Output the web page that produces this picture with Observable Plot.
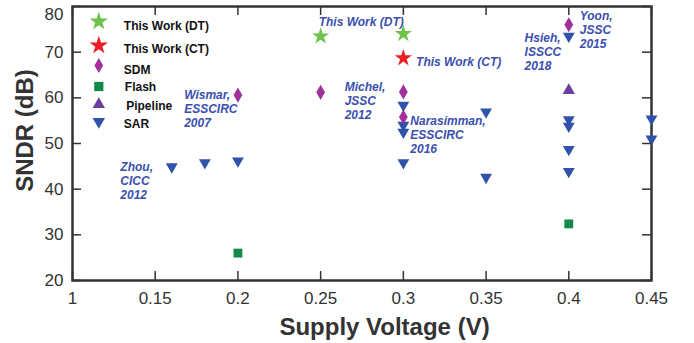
<!DOCTYPE html>
<html><head><meta charset="utf-8">
<script src="https://cdn.jsdelivr.net/npm/d3@7"></script>
<script src="https://cdn.jsdelivr.net/npm/@observablehq/plot@0.6"></script>
<style>
body{margin:0;background:#fff;}
#chart svg{font-family:"Liberation Sans",Arial,sans-serif;}
</style></head><body><div id="chart"></div>
<script>
// ---- tick labels ----
const xTicks = [0.1, 0.15, 0.2, 0.25, 0.3, 0.35, 0.4, 0.45];
const xTickLabels = ["1", "0.15", "0.2", "0.25", "0.3", "0.35", "0.4", "0.45"];
const yTicks = [20, 30, 40, 50, 60, 70, 80];

// ---- series ----
const dtX = [0.25, 0.3];
const dtY = [73.5, 74.0];
const ctX = [0.3];
const ctY = [68.7];
const sdmX = [0.2, 0.25, 0.3, 0.3, 0.4];
const sdmY = [60.6, 61.2, 61.3, 55.8, 76.0];
const flashX = [0.2, 0.4];
const flashY = [26.0, 32.4];
const pipeX = [0.4];
const pipeY = [61.6];
const sarX = [0.16, 0.18, 0.2, 0.3, 0.3, 0.3, 0.3, 0.35, 0.35, 0.4, 0.4, 0.4, 0.4, 0.4, 0.45, 0.45];
const sarY = [44.9, 45.8, 46.2, 58.4, 54.0, 52.5, 45.8, 56.9, 42.6, 73.5, 55.2, 53.8, 48.7, 43.9, 55.4, 51.0];

// ---- annotations ----
const annText = ["This Work (DT)", "This Work (CT)", "Michel,\nJSSC\n2012", "Narasimman,\nESSCIRC\n2016",
                 "Wismar,\nESSCIRC\n2007", "Zhou,\nCICC\n2012", "Hsieh,\nISSCC\n2018", "Yoon,\nJSSC\n2015"];
const annX = [0.2488, 0.3077, 0.2645, 0.3042, 0.1675, 0.1289, 0.3733, 0.4066];
const annY = [76.8, 68.0, 59.4, 52.0, 57.6, 41.9, 70.1, 74.9];

// ---- legend ----
const legendLabels = ["This Work (DT)", "This Work (CT)", "SDM", "Flash", "Pipeline", "SAR"];

const C = {dt: "#6cc24a", ct: "#ee1c24", sdm: "#a0309a", flash: "#128a48", pipe: "#6a3fa0", sar: "#3152aa", ann: "#3a4fae"};
const legendStyle = [
  {symbol: "star", fill: C.dt, r: 5.8, rotate: 0},
  {symbol: "star", fill: C.ct, r: 5.8, rotate: 0},
  {symbol: "diamond", fill: C.sdm, r: 4.6, rotate: 0},
  {symbol: "square", fill: C.flash, r: 5.2, rotate: 0},
  {symbol: "triangle", fill: C.pipe, r: 4.6, rotate: 0},
  {symbol: "triangle", fill: C.sar, r: 4.6, rotate: 180}
];
const legendSymDy = [15, 39, 59, 80, 98, 115];
const legendTxtDy = [19.3, 42.7, 63.3, 80.7, 100, 117.3];
const legendTxtDx = [51.3, 51.3, 51.3, 52.3, 53.7, 51.3];

const pts = (xs, ys) => xs.map((x, i) => ({x, y: ys[i]}));
const ann = annText.map((t, i) => ({text: t, x: annX[i], y: annY[i]}));

const legendMarks = legendLabels.flatMap((lab, i) => [
  Plot.dot([lab], {frameAnchor: "top-left", dx: 26.3, dy: legendSymDy[i], ...legendStyle[i]}),
  Plot.text([lab], {frameAnchor: "top-left", dx: legendTxtDx[i], dy: legendTxtDy[i], text: d => d,
    textAnchor: "start", lineAnchor: "middle", fontSize: 12, fontWeight: "bold", fill: "#111"})
]);

const W = 694, H = 343, ML = 72, MR = 43, MT = 6, MB = 63;
const xDom = [0.1, 0.45], yDom = [20, 80];
const fw = W - ML - MR, fh = H - MT - MB, tl = 9;
// inward tick length expressed in each scale's units
const tlx = tl * (xDom[1] - xDom[0]) / fw, tly = tl * (yDom[1] - yDom[0]) / fh;
const tk = {stroke: "#333", strokeWidth: 1.5};

const chart = Plot.plot({
  width: W, height: H,
  marginLeft: ML, marginRight: MR, marginTop: MT, marginBottom: MB,
  style: {fontFamily: '"Liberation Sans", Arial, sans-serif', background: "#fff"},
  x: {domain: xDom, axis: null},
  y: {domain: yDom, axis: null},
  marks: [
    // tick labels
    Plot.text(xTicks, {x: d => d, frameAnchor: "bottom", dy: 18, text: d => xTickLabels[xTicks.indexOf(d)],
      lineAnchor: "middle", textAnchor: "middle", fontSize: 17, fill: "#333"}),
    Plot.text(yTicks.filter(d => d !== 80), {y: d => d, frameAnchor: "left", dx: -9, text: d => String(d),
      lineAnchor: "middle", textAnchor: "end", fontSize: 17, fill: "#333"}),
    Plot.text([80], {y: d => d, frameAnchor: "left", dx: -9, dy: 8, text: d => String(d),
      lineAnchor: "middle", textAnchor: "end", fontSize: 17, fill: "#333"}),
    Plot.frame({stroke: "#333", strokeWidth: 2.5}),
    Plot.dot(pts(sarX, sarY), {x: "x", y: "y", symbol: "triangle", rotate: 180, r: 4.4, fill: C.sar}),
    Plot.dot(pts(sdmX, sdmY), {x: "x", y: "y", symbol: "diamond", r: 4.6, fill: C.sdm}),
    Plot.dot(pts(flashX, flashY), {x: "x", y: "y", symbol: "square", r: 5.0, fill: C.flash}),
    Plot.dot(pts(pipeX, pipeY), {x: "x", y: "y", symbol: "triangle", r: 4.6, fill: C.pipe}),
    Plot.dot(pts(ctX, ctY), {x: "x", y: "y", symbol: "star", r: 5.4, fill: C.ct}),
    Plot.dot(pts(dtX, dtY), {x: "x", y: "y", symbol: "star", r: 5.4, fill: C.dt}),
    Plot.text(ann, {x: "x", y: "y", text: "text", textAnchor: "start", lineAnchor: "middle", fill: C.ann, fontSize: 12,
      fontWeight: "bold", fontStyle: "italic", lineHeight: 1.15}),
    ...legendMarks,
    Plot.text(["SNDR (dB)"], {frameAnchor: "left", rotate: -90, dx: -47, dy: -13, text: d => d,
      textAnchor: "middle", lineAnchor: "middle", fontSize: 24, fontWeight: "bold", fill: "#333"}),
    Plot.text(["Supply Voltage (V)"], {frameAnchor: "bottom", dx: 22.5, dy: 47, text: d => d,
      textAnchor: "middle", lineAnchor: "middle", fontSize: 24, fontWeight: "bold", fill: "#333"}),
    // inward ticks on all four sides
    Plot.ruleX(xTicks, {x: d => d, y1: yDom[0], y2: yDom[0] + tly, ...tk}),
    Plot.ruleX(xTicks, {x: d => d, y1: yDom[1], y2: yDom[1] - tly, ...tk}),
    Plot.ruleY(yTicks, {y: d => d, x1: xDom[0], x2: xDom[0] + tlx, ...tk}),
    Plot.ruleY(yTicks, {y: d => d, x1: xDom[1], x2: xDom[1] - tlx, ...tk})
  ]
});
document.getElementById("chart").appendChild(chart);
</script></body></html>
